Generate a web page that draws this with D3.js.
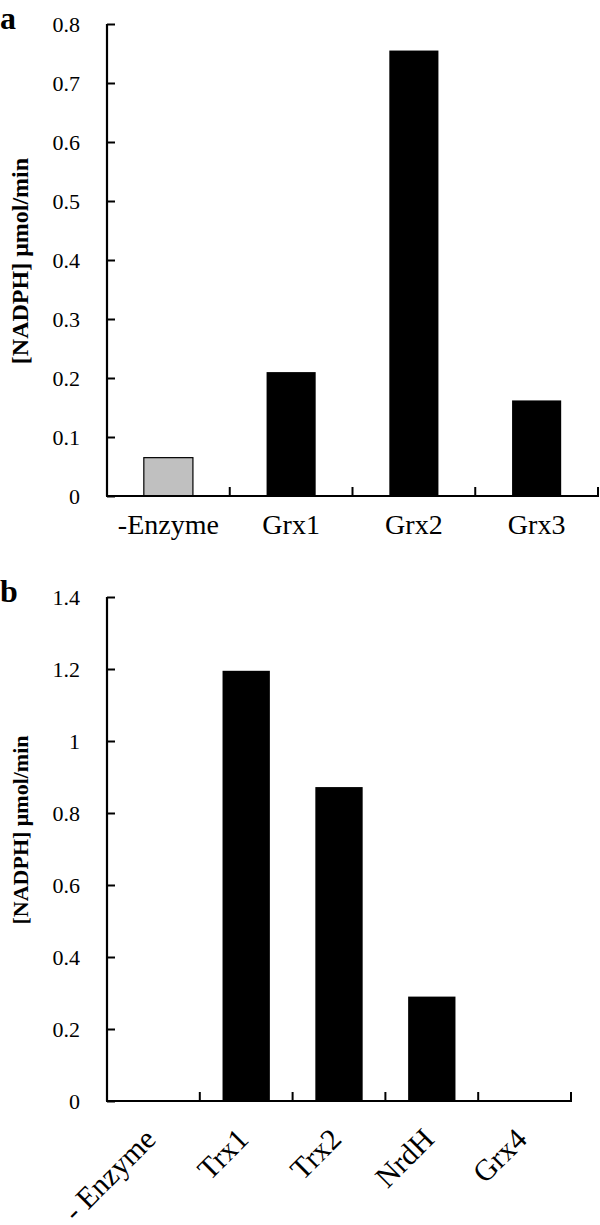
<!DOCTYPE html>
<html><head><meta charset="utf-8">
<script src="https://cdn.jsdelivr.net/npm/d3@7"></script>
<style>body{margin:0;background:#fff}svg{display:block}</style>
</head><body>
<svg id="c" width="600" height="1225"></svg>
<script>
const catsA = ["-Enzyme","Grx1","Grx2","Grx3"];
const valsA = [0.065,0.21,0.755,0.162];
const colorsA = ["#c0c0c0","#000","#000","#000"];
const ticksA = [0,0.1,0.2,0.3,0.4,0.5,0.6,0.7,0.8];
const catsB = ["- Enzyme","Trx1","Trx2","NrdH","Grx4"];
const valsB = [0,1.195,0.872,0.29,0];
const ticksB = [0,0.2,0.4,0.6,0.8,1,1.2,1.4];
const yTitle = "[NADPH] μmol/min";

const svg = d3.select("#c");
const font = "'Liberation Serif','Times New Roman',serif";

function panel(opt){
  const g = svg.append("g");
  const x = d3.scaleBand().domain(opt.cats).range([opt.x0,opt.x1])
     .paddingInner(opt.pin).paddingOuter(opt.pin/2);
  const y = d3.scaleLinear().domain([0,opt.ymax]).range([opt.yb,opt.yt]);
  const step = x.step();
  g.selectAll("rect.bar").data(opt.cats).enter().append("rect")
    .attr("x",d=>x(d)).attr("width",x.bandwidth())
    .attr("y",(d,i)=>y(opt.vals[i])).attr("height",(d,i)=>opt.yb-y(opt.vals[i]))
    .attr("fill",(d,i)=>opt.colors? opt.colors[i]:"#000")
    .attr("stroke",(d,i)=>opt.colors && opt.colors[i]!=="#000"?"#000":"none")
    .attr("stroke-width",1.2);
  const ya = d3.axisLeft(y).tickValues(opt.ticks).tickSize(-8).tickPadding(27)
    .tickFormat(d=>String(d));
  const yg = g.append("g").attr("transform",`translate(${opt.x0},0)`).call(ya);
  yg.select(".domain").attr("stroke-width",2.2).attr("d",`M0,${opt.yt}V${opt.yb}`);
  yg.selectAll(".tick line").attr("stroke-width",2);
  yg.selectAll(".tick text").attr("font-family",font).attr("font-size",22).attr("fill","#000");
  const edges = d3.range(opt.cats.length+1).map(i=>opt.x0+i*step);
  g.append("line").attr("x1",opt.x0-1).attr("x2",edges[edges.length-1]+1)
    .attr("y1",opt.yb).attr("y2",opt.yb).attr("stroke","#000").attr("stroke-width",2.2);
  g.selectAll("line.xt").data(edges.slice(1)).enter().append("line")
    .attr("x1",d=>d).attr("x2",d=>d).attr("y1",opt.yb).attr("y2",opt.yb-9)
    .attr("stroke","#000").attr("stroke-width",2);
  if(!opt.rot){
    g.selectAll("text.cat").data(opt.cats).enter().append("text")
      .attr("x",d=>x(d)+x.bandwidth()/2).attr("y",opt.yb+38)
      .attr("text-anchor","middle").attr("font-family",font).attr("font-size",28)
      .text(d=>d);
  } else {
    g.selectAll("text.cat").data(opt.cats).enter().append("text")
      .attr("transform",d=>`translate(${x(d)+x.bandwidth()/2+4},${opt.yb+40}) rotate(-45)`)
      .attr("text-anchor","end").attr("font-family",font).attr("font-size",30)
      .text(d=>d);
  }
  g.append("text").attr("transform",`translate(28,${opt.titleY}) rotate(-90)`)
    .attr("text-anchor","middle").attr("font-family",font).attr("font-size",opt.titleSize)
    .attr("font-weight","bold").text(yTitle);
  g.append("text").attr("x",0).attr("y",opt.letterY).attr("font-family",font)
    .attr("font-size",32).attr("font-weight","bold").text(opt.letter);
}

panel({cats:catsA, vals:valsA, colors:colorsA, ticks:ticksA, ymax:0.8,
  x0:107, x1:598, pin:0.6, yt:24, yb:496, rot:false, titleY:261, titleSize:24, letter:"a", letterY:29});
panel({cats:catsB, vals:valsB, ticks:ticksB, ymax:1.4,
  x0:107, x1:571, pin:0.49, yt:597, yb:1101, rot:true, titleY:830, titleSize:22, letter:"b", letterY:602});
</script>
</body></html>
